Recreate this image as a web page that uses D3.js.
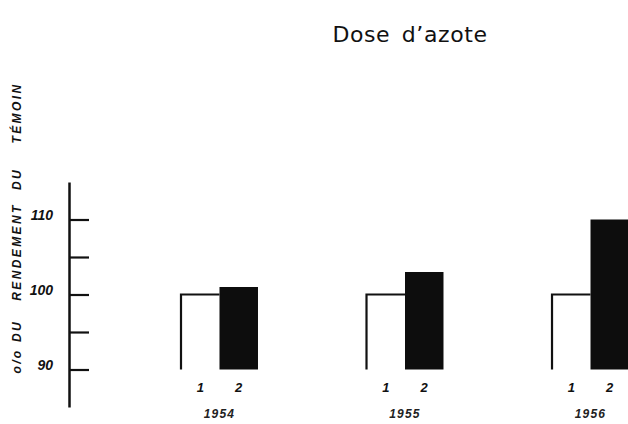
<!DOCTYPE html>
<html><head><meta charset="utf-8">
<script src="https://cdn.jsdelivr.net/npm/d3@7"></script>
<style>body{margin:0;background:#fff}</style>
</head><body>
<svg id="c" width="628" height="424"></svg>
<script>
const years = ["1954", "1955", "1956"];
const doses = ["1", "2"];
const dose1 = [100, 100, 100];
const dose2 = [101, 103, 110];
const tickValues = [90, 95, 100, 105, 110];
const tickLabels = [90, 100, 110];
const title = "Dose  d\u2019azote";
const yTitleWords = ["o/o", "DU", "RENDEMENT", "DU", "TÉMOIN"];
const yTitleCenters = [361, 331, 252, 179, 113]; // layout positions

const svg = d3.select("#c");
svg.append("rect").attr("width", 628).attr("height", 424).attr("fill", "#fff");

const y = d3.scaleLinear().domain([85, 115]).range([407, 182]);
const x = d3.scaleBand().domain(years).range([181, 629]).paddingInner(0.585).paddingOuter(0);
const xi = d3.scaleBand().domain(doses).range([0, x.bandwidth()]).padding(0);

const axis = d3.axisRight(y).tickValues(tickValues).tickSize(20).tickSizeOuter(0).tickFormat("");
const ag = svg.append("g").attr("transform", "translate(69,0)").call(axis);
ag.select(".domain").attr("stroke", "#111").attr("stroke-width", 2.5);
ag.selectAll(".tick line").attr("stroke", "#111").attr("stroke-width", 2.2);

svg.selectAll(".ylab").data(tickLabels).join("text")
  .attr("x", 53).attr("y", d => y(d) - 4)
  .attr("dy", "0.35em").attr("text-anchor", "end")
  .attr("font-family", "Liberation Sans, Arial, sans-serif")
  .attr("font-weight", "bold").attr("font-style", "italic").attr("font-size", 14)
  .attr("fill", "#111").text(d => d);

svg.selectAll(".yt").data(yTitleWords).join("text")
  .attr("transform", (d, i) => `translate(21,${yTitleCenters[i]}) rotate(-90)`)
  .attr("text-anchor", "middle")
  .attr("font-family", "Liberation Sans, Arial, sans-serif")
  .attr("font-weight", "bold").attr("font-style", "italic").attr("font-size", 12)
  .attr("letter-spacing", 2.4)
  .attr("fill", "#111").text(d => d);

svg.append("text")
  .attr("x", 410).attr("y", 42).attr("text-anchor", "middle")
  .attr("font-family", "DejaVu Sans, sans-serif").attr("font-size", 22)
  .attr("letter-spacing", 0.6).attr("word-spacing", 4)
  .attr("fill", "#111").text(title);

const g = svg.selectAll(".grp").data(years).join("g")
  .attr("transform", d => `translate(${x(d)},0)`);

// dose 1: open outline (left + top)
g.append("path")
  .attr("d", (d, i) => {
    const x0 = xi("1"), x1 = xi("1") + xi.bandwidth();
    return `M${x0},${y(90)}V${y(dose1[i])}H${x1}`;
  })
  .attr("fill", "none").attr("stroke", "#111").attr("stroke-width", 2.2);

// dose 2: black bar
g.append("rect")
  .attr("x", xi("2")).attr("width", xi.bandwidth())
  .attr("y", (d, i) => y(dose2[i]))
  .attr("height", (d, i) => y(90) - y(dose2[i]))
  .attr("fill", "#0d0d0d");

g.selectAll(".dl").data(doses).join("text")
  .attr("x", d => xi(d) + xi.bandwidth() / 2).attr("y", 387).attr("dy", "0.35em")
  .attr("text-anchor", "middle")
  .attr("font-family", "Liberation Sans, Arial, sans-serif")
  .attr("font-weight", "bold").attr("font-style", "italic").attr("font-size", 13)
  .attr("fill", "#111").text(d => d);

g.append("text")
  .attr("x", x.bandwidth() / 2).attr("y", 414).attr("dy", "0.35em")
  .attr("text-anchor", "middle")
  .attr("font-family", "Liberation Sans, Arial, sans-serif")
  .attr("font-style", "italic").attr("font-weight", "bold").attr("font-size", 12)
  .attr("letter-spacing", 1.2)
  .attr("fill", "#222").text(d => d);
</script>
</body></html>
